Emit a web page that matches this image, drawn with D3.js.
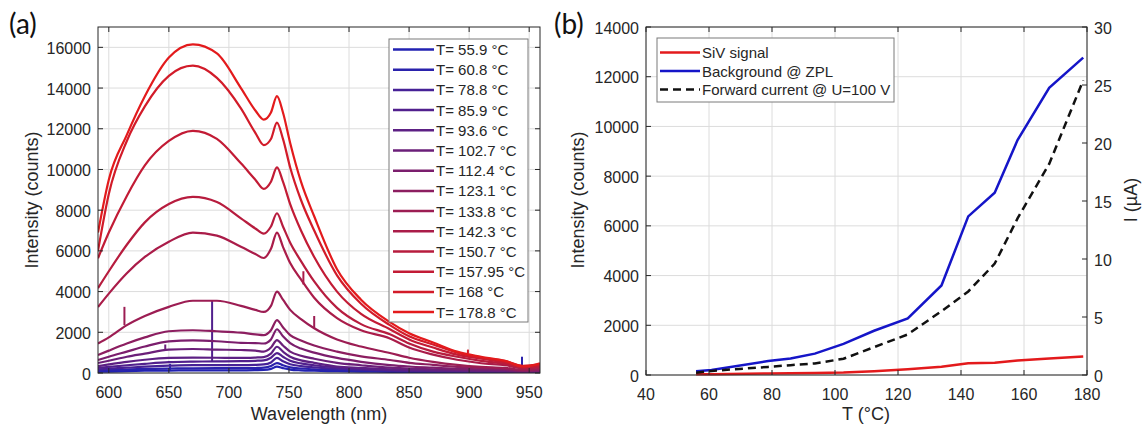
<!DOCTYPE html>
<html>
<head>
<meta charset="utf-8">
<script src="https://cdn.jsdelivr.net/npm/d3@7"></script>
<style>
  body { margin: 0; background: #fff; }
  svg text { font-family: "Liberation Sans", Arial, sans-serif; fill: #262626; }
</style>
</head>
<body>
<svg id="chart" width="1144" height="432"></svg>
<script>
// ---- data, panel (a): spectra sampled on a common wavelength grid ----
const wavelengths = [591, 600, 615, 630, 650, 670, 690, 710, 722, 729, 735, 740, 745, 751, 760, 771, 790, 810, 834, 850, 870, 890, 910, 930, 945, 959];
const temps = [55.9, 60.8, 78.8, 85.9, 93.6, 102.7, 112.4, 123.1, 133.8, 142.3, 150.7, 157.95, 168, 178.8];
const tempLabels = ["55.9", "60.8", "78.8", "85.9", "93.6", "102.7", "112.4", "123.1", "133.8", "142.3", "150.7", "157.95", "168", "178.8"];

const spec_55_9  = [60, 70, 90, 110, 120, 130, 130, 130, 140, 150, 200, 310, 240, 170, 130, 110, 90, 70, 60, 50, 45, 40, 40, 35, 30, 35];
const spec_60_8  = [120, 140, 170, 200, 220, 230, 235, 235, 245, 260, 340, 490, 380, 280, 220, 180, 140, 110, 90, 80, 70, 60, 60, 50, 40, 50];
const spec_78_8  = [180, 210, 260, 310, 360, 390, 390, 390, 400, 420, 520, 740, 580, 430, 340, 280, 210, 160, 120, 100, 90, 80, 70, 60, 50, 60];
const spec_85_9  = [250, 300, 380, 450, 530, 560, 570, 580, 600, 620, 750, 980, 800, 600, 470, 380, 270, 200, 150, 130, 110, 100, 90, 80, 60, 70];
const spec_93_6  = [340, 420, 550, 650, 740, 760, 750, 740, 760, 780, 950, 1290, 1050, 800, 620, 500, 320, 250, 180, 150, 130, 110, 100, 90, 70, 80];
const spec_102_7 = [490, 600, 800, 950, 1150, 1180, 1150, 1130, 1100, 1050, 1250, 1620, 1350, 1050, 850, 700, 500, 380, 260, 220, 180, 150, 130, 110, 80, 100];
const spec_112_4 = [640, 800, 1050, 1300, 1550, 1600, 1560, 1480, 1470, 1450, 1650, 2150, 1800, 1470, 1200, 1000, 740, 550, 390, 320, 260, 200, 180, 150, 100, 120];
const spec_123_1 = [880, 1100, 1450, 1750, 2050, 2100, 2050, 1980, 1900, 1860, 2100, 2600, 2250, 1860, 1600, 1350, 1050, 820, 640, 500, 400, 300, 250, 200, 120, 150];
const spec_133_8 = [1450, 1750, 2350, 2800, 3250, 3550, 3550, 3300, 3100, 3000, 3300, 4000, 3600, 3100, 2650, 2200, 1650, 1300, 980, 750, 550, 400, 300, 250, 150, 200];
const spec_142_3 = [3240, 3900, 4900, 5700, 6450, 6900, 6750, 6200, 5850, 5650, 6100, 6900, 6200, 5400, 4600, 3700, 2700, 2100, 1700, 1250, 900, 650, 480, 380, 220, 280];
const spec_150_7 = [4170, 5000, 6300, 7400, 8300, 8650, 8400, 7600, 7100, 6850, 7200, 7850, 7200, 6400, 5500, 4500, 3200, 2400, 1900, 1450, 1050, 800, 600, 450, 280, 330];
const spec_157_95 = [5640, 6900, 8700, 10200, 11400, 11900, 11500, 10300, 9500, 9050, 9400, 10100, 9400, 8300, 7000, 5700, 4000, 2900, 2150, 1650, 1250, 900, 700, 520, 330, 380];
const spec_168   = [6000, 8800, 11400, 13100, 14600, 15100, 14500, 13000, 11800, 11200, 11500, 12300, 11500, 10100, 8500, 7000, 4800, 3400, 2350, 1800, 1400, 1000, 750, 580, 350, 420];
const spec_178_8 = [6900, 9500, 11700, 13600, 15500, 16150, 15700, 14000, 12900, 12450, 12800, 13600, 12800, 11300, 9400, 7700, 5100, 3600, 2500, 1950, 1500, 1050, 800, 600, 320, 480];

const spectra = [spec_55_9, spec_60_8, spec_78_8, spec_85_9, spec_93_6, spec_102_7, spec_112_4,
                 spec_123_1, spec_133_8, spec_142_3, spec_150_7, spec_157_95, spec_168, spec_178_8];

// narrow spikes: [series index, wavelength, base, top]
const spikes = [[8, 613, 2350, 3250], [3, 686, 560, 3580], [5, 647, 1150, 1400], [9, 762, 4350, 5000],
                [8, 771, 2200, 2800], [0, 651, 150, 450], [12, 899, 950, 1150], [1, 944, 300, 800]];

const xTicksA = [600, 650, 700, 750, 800, 850, 900, 950];
const yTicksA = [0, 2000, 4000, 6000, 8000, 10000, 12000, 14000, 16000];

// ---- data, panel (b) ----
const tempsB = [55.9, 60.8, 78.8, 85.9, 93.6, 102.7, 112.4, 123.1, 133.8, 142.3, 150.7, 157.95, 168, 178.8];
const sivSignal = [30, 35, 60, 70, 80, 100, 150, 230, 330, 470, 490, 580, 660, 740];
const background = [150, 200, 560, 660, 860, 1250, 1780, 2280, 3600, 6380, 7330, 9450, 11550, 12770];
const forwardCurrent = [0.2, 0.35, 0.7, 0.85, 1.0, 1.4, 2.4, 3.5, 5.5, 7.2, 9.6, 13.5, 18.2, 25.4];

const xTicksB = [40, 60, 80, 100, 120, 140, 160, 180];
const yTicksB = [0, 2000, 4000, 6000, 8000, 10000, 12000, 14000];
const y2TicksB = [0, 5, 10, 15, 20, 25, 30];

const legendB = ["SiV signal", "Background @ ZPL", "Forward current @ U=100 V"];

const svg = d3.select("#chart");
const tickLen = 5;

const color = d3.scaleLinear()
    .domain([55.9, 178.8])
    .range(["#2222b2", "#e31a1c"])
    .interpolate(d3.interpolateRgb);

function frame(g, x, y, xt, yt) {
    const [x0, x1] = x.range(), [y0, y1] = y.range();
    g.selectAll(".gx").data(xt).join("line")
        .attr("x1", d => x(d)).attr("x2", d => x(d))
        .attr("y1", y0).attr("y2", y1)
        .attr("stroke", "#dcdcdc").attr("stroke-width", 1);
    g.selectAll(".gy").data(yt).join("line")
        .attr("x1", x0).attr("x2", x1)
        .attr("y1", d => y(d)).attr("y2", d => y(d))
        .attr("stroke", "#dcdcdc").attr("stroke-width", 1);
}

function box(g, x, y, xt, yt, y2, y2t) {
    const [x0, x1] = x.range(), [y0, y1] = y.range();
    const ax = g.append("g").attr("stroke", "#262626").attr("stroke-width", 1);
    ax.append("rect").attr("x", x0).attr("y", y1).attr("width", x1 - x0).attr("height", y0 - y1)
        .attr("fill", "none");
    xt.forEach(d => {
        ax.append("line").attr("x1", x(d)).attr("x2", x(d)).attr("y1", y0).attr("y2", y0 - tickLen);
        ax.append("line").attr("x1", x(d)).attr("x2", x(d)).attr("y1", y1).attr("y2", y1 + tickLen);
    });
    yt.forEach(d => {
        ax.append("line").attr("x1", x0).attr("x2", x0 + tickLen).attr("y1", y(d)).attr("y2", y(d));
        if (!y2) ax.append("line").attr("x1", x1).attr("x2", x1 - tickLen).attr("y1", y(d)).attr("y2", y(d));
    });
    if (y2) y2t.forEach(d => {
        ax.append("line").attr("x1", x1).attr("x2", x1 - tickLen).attr("y1", y2(d)).attr("y2", y2(d));
    });
    g.selectAll(".xl").data(xt).join("text")
        .attr("x", d => x(d)).attr("y", y0 + 25)
        .attr("text-anchor", "middle").attr("font-size", 16)
        .text(d => d);
    g.selectAll(".yl").data(yt).join("text")
        .attr("x", x0 - 7).attr("y", d => y(d) + 6.5)
        .attr("text-anchor", "end").attr("font-size", 16)
        .text(d => d);
}

// ================= panel (a) =================
const xA = d3.scaleLinear().domain([591, 959]).range([98, 540]);
const yA = d3.scaleLinear().domain([0, 17000]).range([373, 27]);
const gA = svg.append("g");
frame(gA, xA, yA, xTicksA, yTicksA);

svg.append("clipPath").attr("id", "clipA")
   .append("rect").attr("x", 98).attr("y", 27).attr("width", 442).attr("height", 346);

const lineA = d3.line()
    .x((d, i) => xA(wavelengths[i]))
    .y(d => yA(d))
    .curve(d3.curveMonotoneX);

const plotA = gA.append("g").attr("clip-path", "url(#clipA)");
spectra.forEach((s, k) => {
    plotA.append("path")
        .datum(s)
        .attr("d", lineA)
        .attr("fill", "none")
        .attr("stroke", color(temps[k]))
        .attr("stroke-width", 2.2);
    spikes.filter(p => p[0] === k).forEach(p => {
        plotA.append("line")
            .attr("x1", xA(p[1])).attr("x2", xA(p[1]))
            .attr("y1", yA(p[2])).attr("y2", yA(p[3]))
            .attr("stroke", color(temps[k]))
            .attr("stroke-width", 2);
    });
});
box(gA, xA, yA, xTicksA, yTicksA);

gA.append("text").attr("x", 319).attr("y", 420).attr("text-anchor", "middle")
  .attr("font-size", 18).text("Wavelength (nm)");
gA.append("text").attr("transform", "translate(38,200) rotate(-90)").attr("text-anchor", "middle")
  .attr("font-size", 18).text("Intensity (counts)");
svg.append("text").attr("x", 9).attr("y", 34).attr("font-size", 28)
   .style("font-family", "Lato, 'Open Sans', sans-serif").style("fill", "#111").text("(a)");

// legend (a)
const legA = gA.append("g");
legA.append("rect").attr("x", 389).attr("y", 39).attr("width", 139).attr("height", 283)
    .attr("fill", "#fff").attr("stroke", "#7a7a7a").attr("stroke-width", 1);
temps.forEach((t, k) => {
    const yy = 49.5 + k * 20.2;
    legA.append("line").attr("x1", 393).attr("x2", 434).attr("y1", yy).attr("y2", yy)
        .attr("stroke", color(t)).attr("stroke-width", 2.5);
    legA.append("text").attr("x", 436).attr("y", yy + 5.5).attr("font-size", 15)
        .text("T= " + tempLabels[k] + " °C");
});

// ================= panel (b) =================
const xB = d3.scaleLinear().domain([40, 180]).range([646, 1087]);
const yB = d3.scaleLinear().domain([0, 14000]).range([375, 27]);
const y2B = d3.scaleLinear().domain([0, 30]).range([375, 27]);
const gB = svg.append("g");
frame(gB, xB, yB, xTicksB, yTicksB);

const lineB = d3.line().x((d, i) => xB(tempsB[i])).y(d => yB(d));
const lineI = d3.line().x((d, i) => xB(tempsB[i])).y(d => y2B(d));

gB.append("path").datum(sivSignal).attr("d", lineB)
  .attr("fill", "none").attr("stroke", "#e31a1c").attr("stroke-width", 2.5);
gB.append("path").datum(background).attr("d", lineB)
  .attr("fill", "none").attr("stroke", "#1515c8").attr("stroke-width", 2.5);
gB.append("path").datum(forwardCurrent).attr("d", lineI)
  .attr("fill", "none").attr("stroke", "#111").attr("stroke-width", 2.5)
  .attr("stroke-dasharray", "8,5");

box(gB, xB, yB, xTicksB, yTicksB, y2B, y2TicksB);
gB.selectAll(".y2l").data(y2TicksB).join("text")
  .attr("x", 1094).attr("y", d => y2B(d) + 6.5)
  .attr("font-size", 16).text(d => d);

gB.append("text").attr("x", 866).attr("y", 420).attr("text-anchor", "middle")
  .attr("font-size", 18).text("T (°C)");
gB.append("text").attr("transform", "translate(584,200) rotate(-90)").attr("text-anchor", "middle")
  .attr("font-size", 18).text("Intensity (counts)");
gB.append("text").attr("transform", "translate(1137,200) rotate(-90)").attr("text-anchor", "middle")
  .attr("font-size", 18).text("I (µA)");
svg.append("text").attr("x", 554).attr("y", 34).attr("font-size", 28)
   .style("font-family", "Lato, 'Open Sans', sans-serif").style("fill", "#111").text("(b)");

// legend (b)
const legB = gB.append("g");
legB.append("rect").attr("x", 657).attr("y", 38).attr("width", 237).attr("height", 64)
    .attr("fill", "#fff").attr("stroke", "#7a7a7a").attr("stroke-width", 1);
const legStyles = [["#e31a1c", null], ["#1515c8", null], ["#111", "8,5"]];
legendB.forEach((name, k) => {
    const yy = 52.5 + k * 18.5;
    legB.append("line").attr("x1", 660).attr("x2", 700).attr("y1", yy).attr("y2", yy)
        .attr("stroke", legStyles[k][0]).attr("stroke-width", 2.5)
        .attr("stroke-dasharray", legStyles[k][1]);
    legB.append("text").attr("x", 702).attr("y", yy + 5.5).attr("font-size", 15).text(name);
});
</script>
</body>
</html>
